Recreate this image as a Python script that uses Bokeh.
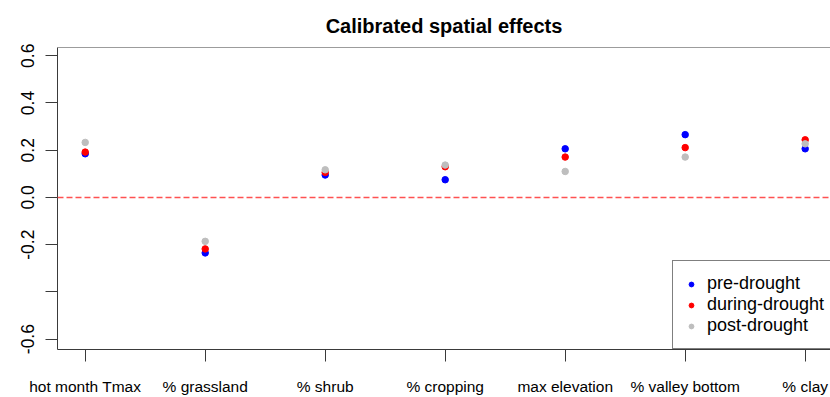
from bokeh.plotting import figure
from bokeh.models import (Range1d, FixedTicker, Span, Legend, LegendItem, ColumnDataSource)
from bokeh.embed import file_html
from bokeh.resources import INLINE

# ---- data ----
categories = ["hot month Tmax", "% grassland", "% shrub", "% cropping",
              "max elevation", "% valley bottom", "% clay"]
pre_drought = [0.185, -0.235, 0.095, 0.075, 0.206, 0.266, 0.206]
during_drought = [0.192, -0.218, 0.106, 0.130, 0.171, 0.211, 0.244]
post_drought = [0.233, -0.186, 0.117, 0.137, 0.110, 0.171, 0.227]
series_names = ["pre-drought", "during-drought", "post-drought"]
series_colors = ["#0000FF", "#FF0000", "#BEBEBE"]
y_ticks = [-0.6, -0.4, -0.2, 0.0, 0.2, 0.4, 0.6]
y_tick_labels = ["-0.6", "", "-0.2", "0.0", "0.2", "0.4", "0.6"]
x_lo, x_hi = 0.769, 7.211
y_lo, y_hi = -0.644, 0.635

FONT = "Liberation Sans"
AX = "#3a3a3a"

xs = list(range(1, len(categories) + 1))

p = figure(width=830, height=397, output_backend="svg", toolbar_location=None,
           x_range=Range1d(x_lo, x_hi), y_range=Range1d(y_lo, y_hi),
           min_border_left=57, min_border_right=0, min_border_top=47,
           min_border_bottom=47, background_fill_color="white",
           border_fill_color="white")
p.outline_line_color = None
p.grid.visible = False

p.title.text = "Calibrated spatial effects"
p.title.text_font = FONT
p.title.text_font_size = "20px"
p.title.text_font_style = "bold"
p.title.align = "center"
p.title.text_color = "black"
p.title.standoff = 22

# x axis
p.xaxis.ticker = FixedTicker(ticks=xs)
p.xaxis.major_label_overrides = {x: c for x, c in zip(xs, categories)}
p.xaxis.major_label_text_font = FONT
p.xaxis.major_label_text_font_size = "15.5px"
p.xaxis.major_label_text_color = "black"
p.xaxis.major_label_standoff = 16
p.xaxis.major_tick_out = 12
p.xaxis.major_tick_in = 0
p.xaxis.minor_tick_line_color = None
p.xaxis.axis_line_color = AX
p.xaxis.major_tick_line_color = AX

# y axis
p.yaxis.ticker = FixedTicker(ticks=y_ticks)
p.yaxis.major_label_overrides = {t: l for t, l in zip(y_ticks, y_tick_labels)}
p.yaxis.major_label_orientation = "parallel"
p.yaxis.major_label_text_font = FONT
p.yaxis.major_label_text_font_size = "17.5px"
p.yaxis.major_label_text_color = "black"
p.yaxis.major_label_standoff = 11
p.yaxis.major_tick_out = 12
p.yaxis.major_tick_in = 0
p.yaxis.minor_tick_line_color = None
p.yaxis.axis_line_color = AX
p.yaxis.major_tick_line_color = AX

# top border of the box
p.add_layout(Span(location=y_hi, dimension="width", line_color=AX, line_width=1))

# zero reference line
p.add_layout(Span(location=0, dimension="width", line_color="#FF5252",
                  line_alpha=1.0, line_dash="6 3", line_width=1.4))

renderers = []
for vals, name, col in zip([pre_drought, during_drought, post_drought],
                           series_names, series_colors):
    src = ColumnDataSource(dict(x=xs, y=vals))
    r = p.scatter("x", "y", source=src, size=6.5, color=col, line_color=col)
    renderers.append(r)

legend = Legend(items=[LegendItem(label=n, renderers=[r]) for n, r in zip(series_names, renderers)],
                location=(615, 0), padding=12, spacing=0, label_height=20,
                glyph_height=20, glyph_width=12, label_standoff=10, margin=0,
                label_text_font=FONT, label_text_font_size="18px",
                label_text_color="black", border_line_color="black",
                border_line_width=1, background_fill_color="white",
                background_fill_alpha=1.0)
p.add_layout(legend)

open("out.html", "w").write(file_html(p, INLINE))
